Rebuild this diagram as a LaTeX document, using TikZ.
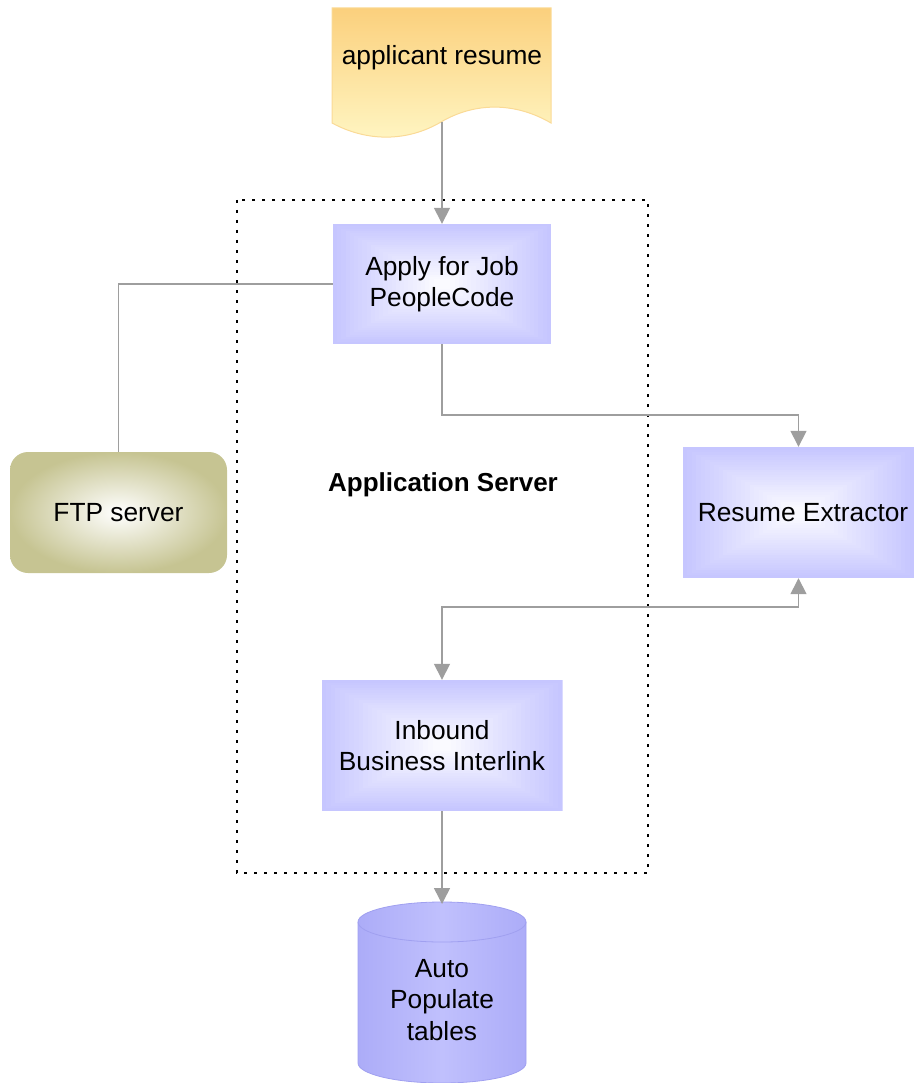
\documentclass[tikz,border=0pt]{standalone}
\usepackage{fontspec}
\setmainfont{Liberation Sans}
\usetikzlibrary{arrows.meta,calc}
\definecolor{boxblue}{RGB}{198,198,255}
\definecolor{boxcenter}{RGB}{252,252,255}
\definecolor{ftpolive}{RGB}{198,196,146}
\definecolor{arrgray}{RGB}{158,158,158}
\definecolor{docTop}{RGB}{251,208,125}
\definecolor{docBot}{RGB}{255,246,195}
\definecolor{docEdge}{RGB}{250,218,150}
\definecolor{dbside}{RGB}{172,172,248}
\definecolor{dbmid}{RGB}{192,192,253}
\definecolor{dbedge}{RGB}{160,160,240}
\tikzset{
 lbl/.style={font=\fontsize{26.3}{31.5}\selectfont, align=center},
 softbox/.style={lbl, draw=none, inner sep=0pt, path picture={
   \foreach \k in {0,...,24}{
     \pgfmathsetmacro\f{\k/52}
     \pgfmathtruncatemacro\p{100-4*\k}
     \fill[boxblue!\p!boxcenter] ($(path picture bounding box.south west)!\f!(path picture bounding box.north east)$) rectangle ($(path picture bounding box.north east)!\f!(path picture bounding box.south west)$);
   }}},
 conn/.style={draw=arrgray, line width=1.5pt},
 arr/.style={conn, -{Triangle[length=16pt,width=16pt]}},
 darr/.style={conn, {Triangle[length=16pt,width=16pt]}-{Triangle[length=16pt,width=16pt]}},
}
\begin{document}
\begin{tikzpicture}[x=1pt,y=-1pt]
\useasboundingbox (0,0) rectangle (914,1083);
% application server frame
\draw[dash pattern=on 3pt off 7pt, line width=2pt] (237,200) rectangle (648,873);
\node[font=\bfseries\fontsize{26}{31}\selectfont] (as) at (443,485) {Application Server};
% document
\path[top color=docTop, bottom color=docBot, draw=docEdge, line width=1pt]
  (332,8) -- (551,8) -- (551,123) .. controls (515,102) and (475,102) .. (441,122)
  .. controls (407,142) and (367,142) .. (332,123) -- cycle;
\node[lbl] (doc) at (442,58) {applicant resume};
\coordinate (docb) at (442,122);
% boxes
\node[softbox, minimum width=218pt, minimum height=120pt] (apply) at (442,284) {Apply for Job\\PeopleCode};
\node[softbox, minimum width=231pt, minimum height=131pt] (re) at (798.5,512.5) {\hspace*{9pt}Resume Extractor};
\node[softbox, minimum width=241pt, minimum height=131pt] (inb) at (442,745.5) {Inbound\\Business Interlink};
\node[lbl, rounded corners=18pt, inner color=white, outer color=ftpolive, minimum width=217pt, minimum height=121pt] (ftp) at (118.5,512.5) {FTP server};
% cylinder
\path[left color=dbside, right color=dbside, middle color=dbmid, draw=dbedge, line width=0.8pt]
  (358,922) .. controls (358,911) and (395.6,902) .. (442,902)
  .. controls (488.4,902) and (526,911) .. (526,922) -- (526,1063)
  .. controls (526,1074) and (488.4,1083) .. (442,1083)
  .. controls (395.6,1083) and (358,1074) .. (358,1063) -- cycle;
\draw[dbedge, line width=0.8pt] (358,922) .. controls (358,933) and (395.6,942) .. (442,942)
  .. controls (488.4,942) and (526,933) .. (526,922);
\node[lbl] (db) at (442,1000) {Auto\\Populate\\tables};
\coordinate (dbtop) at (442,904);
% connectors
\draw[arr] (docb) -- (apply.north);
\draw[conn] (apply.west) -| (ftp.north);
\draw[arr] (apply.south) -- ++(0,71) -| (re.north);
\draw[darr] (re.south) -- ++(0,29) -| (inb.north);
\draw[arr] (inb.south) -- (dbtop);
\end{tikzpicture}
\end{document}
